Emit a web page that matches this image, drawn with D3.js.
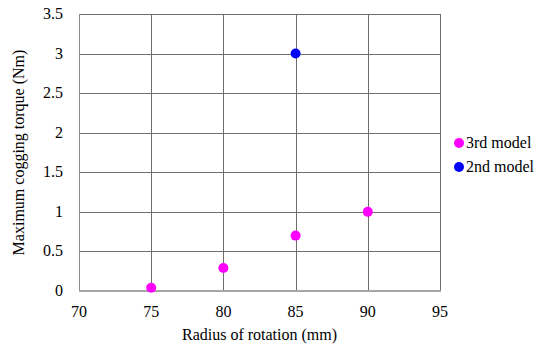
<!DOCTYPE html>
<html><head><script src="https://cdn.jsdelivr.net/npm/d3@7"></script></head>
<body style="margin:0">
<script>
const xTicks = [70, 75, 80, 85, 90, 95];
const yTicks = [0, 0.5, 1, 1.5, 2, 2.5, 3, 3.5];
const thirdRadius = [75, 80, 85, 90];
const thirdTorque = [0.04, 0.29, 0.7, 1.0];
const secondRadius = [85];
const secondTorque = [3.0];
const seriesNames = ["3rd model", "2nd model"];
const seriesColors = ["#ff00ff", "#0000ff"];

const [width, height] = [552, 347];
const plot = { left: 79, right: 440, top: 14, bottom: 291 };
const fontFam = d => '"Liberation Serif"';

const svg = d3.select("body").append("svg").attr("width", width).attr("height", height);

const x = d3.scaleLinear().domain([70, 95]).range([plot.left, plot.right]);
const y = d3.scaleLinear().domain([0, 3.5]).range([plot.bottom, plot.top]);

// grid
svg.append("g").selectAll("line").data(yTicks.filter(d => d > 0)).enter().append("line")
	.attr("x1", plot.left).attr("x2", plot.right)
	.attr("y1", d => Math.round(y(d)) + 0.5).attr("y2", d => Math.round(y(d)) + 0.5)
	.attr("stroke", "#6e6e6e").attr("stroke-width", 1);
svg.append("g").selectAll("line").data(xTicks.filter(d => d > 70)).enter().append("line")
	.attr("x1", d => Math.round(x(d)) + 0.5).attr("x2", d => Math.round(x(d)) + 0.5)
	.attr("y1", plot.top).attr("y2", plot.bottom)
	.attr("stroke", "#6e6e6e").attr("stroke-width", 1);

// axes lines
svg.append("line").attr("x1", plot.left + 0.5).attr("x2", plot.left + 0.5)
	.attr("y1", plot.top).attr("y2", plot.bottom)
	.attr("stroke", "#8a8a8a").attr("stroke-width", 1);
svg.append("line").attr("x1", plot.left).attr("x2", plot.right + 1)
	.attr("y1", plot.bottom).attr("y2", plot.bottom)
	.attr("stroke", "#a6a6a6").attr("stroke-width", 2);

// tick labels
svg.append("g").selectAll("text").data(yTicks).enter().append("text")
	.attr("x", 63).attr("y", d => y(d) + 5)
	.attr("text-anchor", "end").attr("font-size", 16)
	.style("font-family", fontFam)
	.text(d => d);
svg.append("g").selectAll("text").data(xTicks).enter().append("text")
	.attr("x", d => x(d)).attr("y", 317)
	.attr("text-anchor", "middle").attr("font-size", 16)
	.style("font-family", fontFam)
	.text(d => d);

// axis titles
svg.append("text").attr("x", (plot.left + plot.right) / 2).attr("y", 340)
	.attr("text-anchor", "middle").attr("font-size", 16)
	.style("font-family", fontFam)
	.text("Radius of rotation (mm)");
svg.append("text").attr("transform", `translate(24, ${(plot.top + plot.bottom) / 2}) rotate(-90)`)
	.attr("text-anchor", "middle").attr("font-size", 16)
	.style("font-family", fontFam)
	.text("Maximum cogging torque (Nm)");

// points
const series = [
	{ xs: thirdRadius, ys: thirdTorque },
	{ xs: secondRadius, ys: secondTorque }
];
series.forEach((s, k) => {
	svg.append("g").selectAll("circle").data(s.xs).enter().append("circle")
		.attr("cx", d => x(d)).attr("cy", (d, i) => y(s.ys[i]))
		.attr("r", 5).attr("fill", seriesColors[k]);
});

// legend
const legend = svg.append("g").selectAll("g").data(seriesNames).enter().append("g")
	.attr("transform", (d, i) => `translate(459, ${143 + i * 24})`);
legend.append("circle").attr("r", 5).attr("fill", (d, i) => seriesColors[i]);
legend.append("text").attr("x", 7).attr("y", 5).attr("font-size", 16)
	.style("font-family", fontFam).text(d => d);
</script></body></html>
